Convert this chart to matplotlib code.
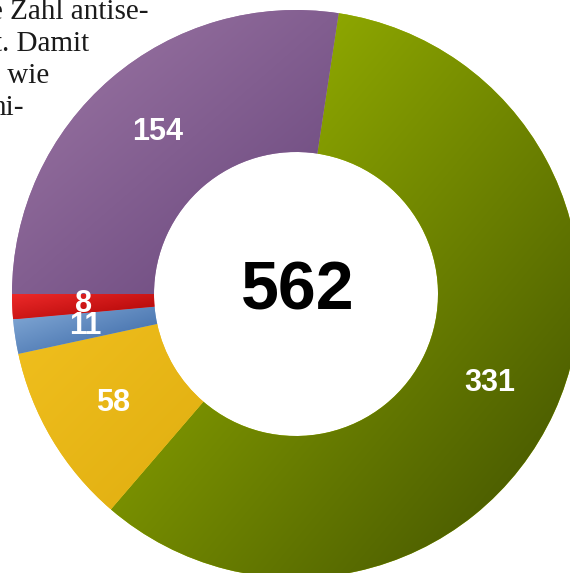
import numpy as np
import matplotlib.pyplot as plt
from matplotlib.colors import to_rgb

# segment values, clockwise from the top
values = [331, 58, 11, 8, 154]
labels = [str(v) for v in values]
total_label = str(sum(values))

# light (top-left) and dark (bottom-right) end of each segment's gradient
colors_light = ['#a6c200', '#f0bf1e', '#86acd8', '#ee2a2a', '#9e78a6']
colors_dark = ['#3e4e00', '#e0ae10', '#3462a2', '#ac0404', '#66447a']

side_text = ['e Zahl antise-', 't. Damit', 't wie', 'ni-']

W, H = 570, 573
fig = plt.figure(figsize=(W / 100, H / 100), dpi=100)
ax = fig.add_axes([0, 0, 1, 1])

center = (296, H - 294)
radius = 284
start = 180 - 360 * values[-1] / sum(values)

wedges, texts = ax.pie(values, labels=labels, radius=radius, center=center,
                       startangle=start, counterclock=False,
                       labeldistance=0.75,
                       colors=colors_light,
                       wedgeprops=dict(width=142, linewidth=0),
                       textprops=dict(color='white', fontsize=22, fontweight='bold',
                                      family='Liberation Sans', ha='center', va='center'))

# diagonal gradient inside each wedge
for w, c0, c1 in zip(wedges, colors_light, colors_dark):
    ext = w.get_path().get_extents()
    n = 128
    u = np.linspace(0, 1, n)
    uu, vv = np.meshgrid(u, u)  # vv: 0 bottom, 1 top
    t = (uu + (1 - vv)) / 2
    a, b = np.array(to_rgb(c0)), np.array(to_rgb(c1))
    img = a + (b - a) * t[..., None]
    im = ax.imshow(img, extent=(ext.x0, ext.x1, ext.y0, ext.y1), origin='lower',
                   interpolation='bilinear', zorder=1.5)
    im.set_clip_path(w)

for t in texts:
    t.set_zorder(3)

ax.text(center[0] + 2, H - 292, total_label, ha='center', va='center',
        fontsize=49, fontweight='bold', family='Liberation Sans', color='black', zorder=3)

# cropped body text from the surrounding page
right_ends = [148, 89, 49, 24]
for i, (line, xr) in enumerate(zip(side_text, right_ends)):
    ax.text(xr, H - (19 + 32 * i), line, ha='right', va='baseline', fontsize=21,
            family='Liberation Serif', color='#1a1a1a', zorder=3)

ax.set_xlim(0, W)
ax.set_ylim(0, H)
ax.set_aspect('auto')
ax.axis('off')

fig.savefig('out.png', dpi=100)
